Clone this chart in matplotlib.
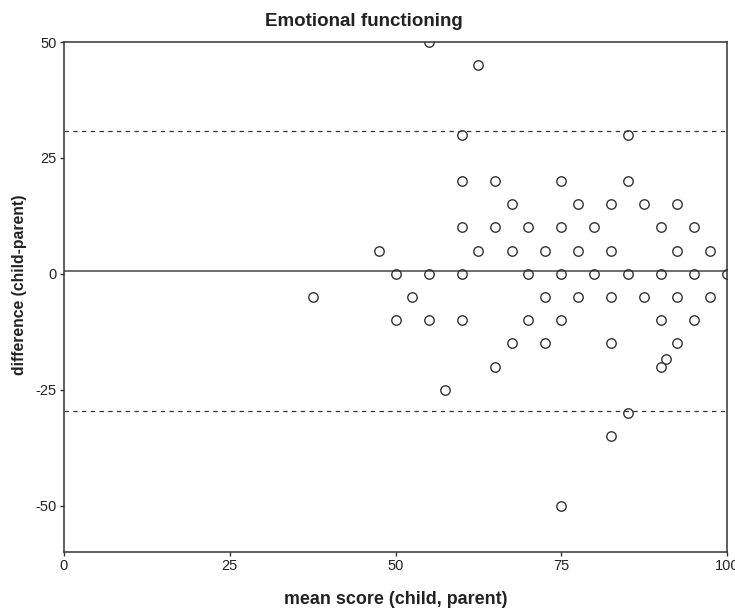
import matplotlib
matplotlib.use("Agg")
import matplotlib.pyplot as plt
from matplotlib import font_manager

names = {f.name for f in font_manager.fontManager.ttflist}
fam = "Liberation Sans Narrow" if "Liberation Sans Narrow" in names else "Liberation Sans"
plt.rcParams['font.family'] = [fam, 'DejaVu Sans']

# Data (mean score, difference)
mean_score = [55, 62.5,
              60, 85,
              60, 65, 75, 85,
              67.5, 77.5, 82.5, 87.5, 92.5,
              60, 65, 70, 75, 80, 90, 95,
              47.5, 62.5, 67.5, 72.5, 77.5, 82.5, 92.5, 97.5,
              50, 55, 60, 70, 75, 80, 85, 90, 95, 100,
              37.5, 52.5, 72.5, 77.5, 82.5, 87.5, 92.5, 97.5,
              50, 55, 60, 70, 75, 90, 95,
              67.5, 72.5, 82.5, 92.5,
              90.8,
              65, 90,
              57.5,
              85,
              82.5,
              75]
difference = [50, 45,
              30, 30,
              20, 20, 20, 20,
              15, 15, 15, 15, 15,
              10, 10, 10, 10, 10, 10, 10,
              5, 5, 5, 5, 5, 5, 5, 5,
              0, 0, 0, 0, 0, 0, 0, 0, 0, 0,
              -5, -5, -5, -5, -5, -5, -5, -5,
              -10, -10, -10, -10, -10, -10, -10,
              -15, -15, -15, -15,
              -18.3,
              -20, -20,
              -25,
              -30,
              -35,
              -50]
mean_diff = 0.7
upper_loa = 30.9
lower_loa = -29.6
x_ticks = [0, 25, 50, 75, 100]
y_ticks = [50, 25, 0, -25, -50]

fig = plt.figure(figsize=(7.35, 6.08), dpi=100)
ax = fig.add_axes([64/735, (608-552)/608, 663/735, 510/608])

ax.axhline(mean_diff, color='#555555', lw=1.2, zorder=1)
for v in (upper_loa, lower_loa):
    ax.axhline(v, color='#333333', lw=0.9, dashes=(3.5, 3.5), zorder=1)

ax.plot(mean_score, difference, linestyle='none', marker='o', markersize=6.8,
        markerfacecolor='none', markeredgecolor='#333333', markeredgewidth=1.0,
        zorder=3, clip_on=True)

ax.set_xlim(0, 100)
ax.set_ylim(-60, 50)
ax.set_xticks(x_ticks)
ax.set_yticks(y_ticks)
ax.set_xticklabels([str(t) for t in x_ticks])
ax.set_yticklabels([str(t) for t in y_ticks])
ax.tick_params(direction='out', length=3.2, width=1, colors='#333333', labelsize=10.5,
               labelcolor='#222222', pad=2)
for s in ax.spines.values():
    s.set_color('#333333')
    s.set_linewidth(1.1)

fig.text(364/735, (608-26)/608, 'Emotional functioning', fontsize=13.5,
         fontweight='bold', color='#222222', ha='center', va='baseline')
ax.set_xlabel('mean score (child, parent)', fontsize=12.9, fontweight='bold',
              color='#222222', va='baseline')
ax.xaxis.set_label_coords(0.5, (552-604)/510)
ax.set_ylabel('difference (child-parent)', fontsize=11.3, fontweight='bold',
              color='#222222', va='center')
ax.yaxis.set_label_coords((19.5-64)/663, (552-284.5)/510)

fig.savefig('out.png', dpi=100)
